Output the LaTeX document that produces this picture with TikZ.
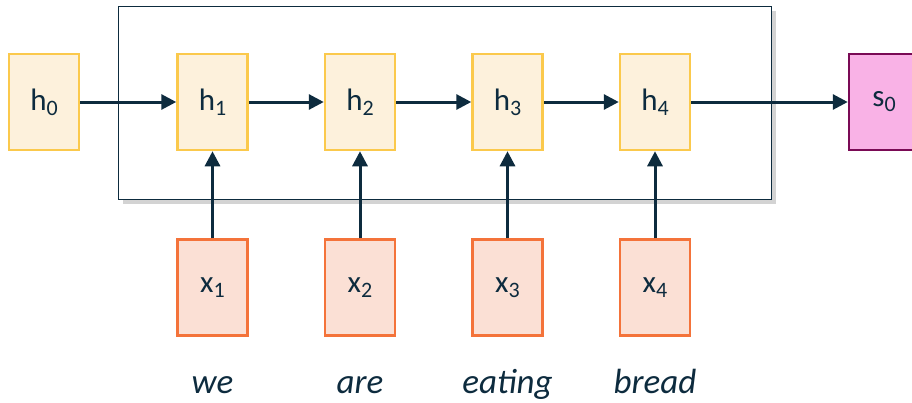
\documentclass[tikz,border=0pt]{standalone}
\usepackage{fontspec}
\setmainfont{Carlito}
\usetikzlibrary{arrows.meta,shadows}
\definecolor{ink}{HTML}{0D2B3E}
\definecolor{hfill}{HTML}{FDF1DC}
\definecolor{hdraw}{HTML}{FBC94C}
\definecolor{xfill}{HTML}{FBE0D5}
\definecolor{xdraw}{HTML}{F4733A}
\definecolor{sfill}{HTML}{F9B2E6}
\definecolor{sdraw}{HTML}{7A0A55}
\newcommand{\lbl}[2]{#1\raisebox{-5pt}{\fontsize{22}{24}\selectfont #2}}
\tikzset{
  cell/.style={minimum width=70pt, minimum height=96pt, line width=2.5pt, inner sep=0pt, font=\fontsize{31}{34}\selectfont, text=ink},
  hidden/.style={cell, fill=hfill, draw=hdraw},
  input/.style={cell, fill=xfill, draw=xdraw},
  output/.style={cell, fill=sfill, draw=sdraw},
  word/.style={font=\fontsize{35}{38}\selectfont\itshape, text=ink, anchor=base},
  link/.style={draw=ink, line width=3pt, -{Triangle[length=15pt,width=15pt]}},
  frame/.style={draw=ink, line width=1.4pt, fill=white, drop shadow={shadow xshift=4pt, shadow yshift=-4pt, opacity=0.35}}
}
\begin{document}
\begin{tikzpicture}[x=1pt,y=-1pt]
\useasboundingbox (0,0) rectangle (912,402);
\begin{scope}
\clip (0,0) rectangle (912,402);
% unrolled recurrence frame
\node[frame, minimum width=653pt, minimum height=193pt, inner sep=0pt, anchor=north west] (box) at (118,6) {};
% hidden states
\node[hidden] (h0) at (44,102) {\lbl{h}{0}};
\node[hidden] (h1) at (212.5,102) {\lbl{h}{1}};
\node[hidden] (h2) at (360,102) {\lbl{h}{2}};
\node[hidden] (h3) at (507.5,102) {\lbl{h}{3}};
\node[hidden] (h4) at (655,102) {\lbl{h}{4}};
\node[output] (s0) at (884,102) {\lbl{s}{0}};
% inputs
\node[input] (x1) at (212.5,287.5) {\lbl{x}{1}};
\node[input] (x2) at (360,287.5) {\lbl{x}{2}};
\node[input] (x3) at (507.5,287.5) {\lbl{x}{3}};
\node[input] (x4) at (655,287.5) {\lbl{x}{4}};
% words
\node[word] (w1) at (212.5,393) {we};
\node[word] (w2) at (360,393) {are};
\node[word] (w3) at (507.5,393) {eating};
\node[word] (w4) at (655,393) {bread};
% connections
\draw[link] (h0) -- (h1);
\draw[link] (h1) -- (h2);
\draw[link] (h2) -- (h3);
\draw[link] (h3) -- (h4);
\draw[link] (h4) -- (s0);
\draw[link] (x1) -- (h1);
\draw[link] (x2) -- (h2);
\draw[link] (x3) -- (h3);
\draw[link] (x4) -- (h4);
\end{scope}
\end{tikzpicture}
\end{document}
